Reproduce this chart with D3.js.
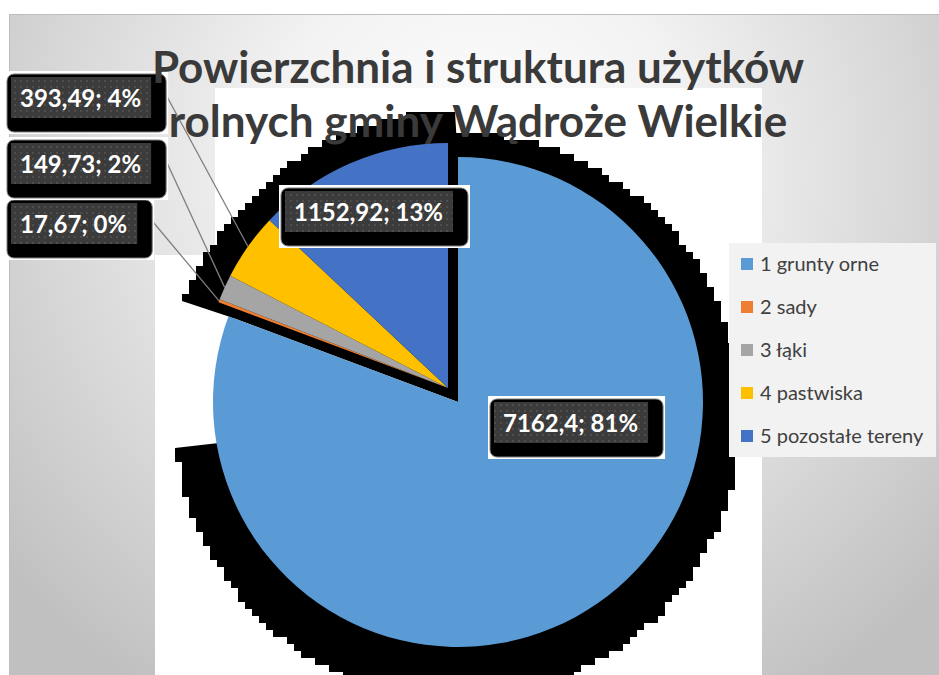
<!DOCTYPE html>
<html>
<head>
<meta charset="utf-8">
<script src="https://cdn.jsdelivr.net/npm/d3@7"></script>
<style>
	body { margin: 0; background: #fff; }
	svg { display: block; font-family: Lato, "Open Sans", sans-serif; }
</style>
</head>
<body>
<div id="chart"></div>
<script>
// data
const categories = ["1 grunty orne", "2 sady", "3 łąki", "4 pastwiska", "5 pozostałe tereny"];
const values = [7162.4, 17.67, 149.73, 393.49, 1152.92];
const colors = ["#5b9bd5", "#ed7d31", "#a5a5a5", "#ffc000", "#4472c4"];
const titleLines = ["Powierzchnia i struktura użytków", "rolnych gminy Wądroże Wielkie"];

// layout
const width = 939;
const height = 675;
const center = [458, 402];
const radius = 245;
const groupOffset = [-10, -14]; // slices 2-5 are pulled out together
const shadow = { dy: 14, r: 283, ringIn: 240, ringOut: 292, cutDeg: 264, step: 7 };
// top-left corner of the dark part of each data label
const labelBoxes = [[494, 402], [11, 203], [11, 143], [11, 77], [285, 191]];

const total = d3.sum(values);
const pct = d3.format(".0%");
const num = (v) => String(v).replace(".", ",");

const svg = d3
	.select("#chart")
	.append("svg")
	.attr("width", width)
	.attr("height", height);

const defs = svg.append("defs");
const bg = defs
	.append("radialGradient")
	.attr("id", "bg")
	.attr("gradientUnits", "userSpaceOnUse")
	.attr("cx", 480)
	.attr("cy", 170)
	.attr("r", 620);
bg.append("stop").attr("offset", 0).attr("stop-color", "#ffffff");
bg.append("stop").attr("offset", 0.35).attr("stop-color", "#f2f2f2");
bg.append("stop").attr("offset", 1).attr("stop-color", "#c0c0c0");

const dots = defs
	.append("pattern")
	.attr("id", "dots")
	.attr("width", 6)
	.attr("height", 6)
	.attr("patternUnits", "userSpaceOnUse");
dots.append("rect").attr("width", 6).attr("height", 6).attr("fill", "#3b3b3b");
dots.append("circle").attr("cx", 3).attr("cy", 3).attr("r", 0.9).attr("fill", "#575757");

// chart background
svg.append("rect")
	.attr("x", 9.5)
	.attr("y", 14.5)
	.attr("width", width)
	.attr("height", height)
	.attr("fill", "url(#bg)")
	.attr("stroke", "#bdbdbd");

// plot area (white)
svg.append("rect").attr("x", 215).attr("y", 88).attr("width", 547).attr("height", 600).attr("fill", "#fff");
svg.append("rect").attr("x", 155).attr("y", 255).attr("width", 70).attr("height", 430).attr("fill", "#fff");

const pie = d3.pie().sort(null).value((d) => d);
const arcs = pie(values);

// stepped (pixelated) shadow outline
const pt = (c, r, a) => [c[0] + r * Math.sin(a), c[1] - r * Math.cos(a)];
const snap = (v) => Math.round(v / shadow.step) * shadow.step;
function steppedWedge(c, rOut, rIn, a0, a1) {
	const pts = [];
	const n = Math.max(2, Math.ceil(((a1 - a0) * 180) / Math.PI) * 2);
	let prev = null;
	for (let i = 0; i <= n; i++) {
		const p = pt(c, rOut, a0 + ((a1 - a0) * i) / n).map(snap);
		if (prev && (p[0] !== prev[0] || p[1] !== prev[1])) pts.push([p[0], prev[1]]);
		pts.push(p);
		prev = p;
	}
	if (rIn > 0) {
		for (let i = n; i >= 0; i--) pts.push(pt(c, rIn, a0 + ((a1 - a0) * i) / n));
	} else {
		pts.push(c);
	}
	return "M" + pts.map((p) => p.join(",")).join("L") + "Z";
}

const groupStart = arcs[1].startAngle;
const groupEnd = arcs[4].endAngle;
const shadowG = svg.append("g").attr("fill", "#000");
shadowG.append("path").attr("d",
	steppedWedge([center[0], center[1] + shadow.dy], shadow.r, 0, arcs[0].startAngle,
		Math.min(arcs[0].endAngle, (shadow.cutDeg * Math.PI) / 180)));
shadowG.append("path").attr("d", steppedWedge(center, shadow.ringOut, shadow.ringIn, groupStart, groupEnd));
shadowG.append("path").attr("d", d3.arc().innerRadius(0).outerRadius(radius)({ startAngle: groupStart, endAngle: groupEnd })).attr("transform", `translate(${center})`);

// slices
const arc = d3.arc().innerRadius(0).outerRadius(radius);
const sliceCenter = (i) => (i === 0 ? center : [center[0] + groupOffset[0], center[1] + groupOffset[1]]);
svg.append("g")
	.selectAll("path")
	.data(arcs)
	.join("path")
	.attr("transform", (d, i) => `translate(${sliceCenter(i)})`)
	.attr("d", arc)
	.attr("fill", (d, i) => colors[i]);

// data labels, with leader lines for the small slices outside the pie
const labelG = svg.append("g");
const boxes = [];
arcs.forEach((d, i) => {
	const text = `${num(values[i])}; ${pct(values[i] / total)}`;
	const t = labelG
		.append("text")
		.attr("font-weight", "bold")
		.attr("font-size", 24)
		.attr("fill", "#fff")
		.text(text);
	const tw = t.node().getComputedTextLength();
	boxes.push({ i, t, tw, x: labelBoxes[i][0], y: labelBoxes[i][1] });
});

boxes.forEach((b) => {
	const dw = b.tw + 19;
	const g = labelG.insert("g", "text");
	g.append("rect").attr("x", b.x - 6).attr("y", b.y - 6).attr("width", dw + 23).attr("height", 63).attr("fill", "#fff");
	g.append("rect").attr("x", b.x - 4).attr("y", b.y - 3).attr("width", dw + 19).attr("height", 58)
		.attr("rx", 7).attr("fill", "#000").attr("stroke", "#7f7f7f").attr("stroke-width", 1);
	g.append("rect").attr("x", b.x).attr("y", b.y).attr("width", dw).attr("height", 41).attr("fill", "url(#dots)");
	b.t.attr("x", b.x + 9).attr("y", b.y + 30);
	const d = arcs[b.i];
	const c = sliceCenter(b.i);
	const end = pt(c, radius, (d.startAngle + d.endAngle) / 2);
	if (b.x + dw + 19 < end[0]) {
		labelG.insert("line", "g")
			.attr("x1", b.x + dw + 15)
			.attr("y1", b.y + 18)
			.attr("x2", end[0])
			.attr("y2", end[1])
			.attr("stroke", "#7f7f7f")
			.attr("stroke-width", 1.3);
	}
});

// title
svg.append("g")
	.selectAll("text")
	.data(titleLines)
	.join("text")
	.attr("x", 478)
	.attr("y", (d, i) => 83 + i * 54)
	.attr("text-anchor", "middle")
	.attr("font-weight", "bold")
	.attr("font-size", 44)
	.attr("fill", "#3a3a3a")
	.text((d) => d);

// legend
const legend = svg.append("g");
legend.append("rect").attr("x", 729).attr("y", 243).attr("width", 207).attr("height", 214).attr("fill", "#f2f2f2");
const item = legend
	.selectAll("g.item")
	.data(categories)
	.join("g")
	.attr("class", "item")
	.attr("transform", (d, i) => `translate(741, ${264 + i * 43})`);
item.append("rect").attr("y", -6).attr("width", 12).attr("height", 12).attr("fill", (d, i) => colors[i]);
item.append("text")
	.attr("x", 19)
	.attr("dy", "0.36em")
	.attr("font-size", 20)
	.attr("fill", "#404040")
	.text((d) => d);
</script>
</body>
</html>
